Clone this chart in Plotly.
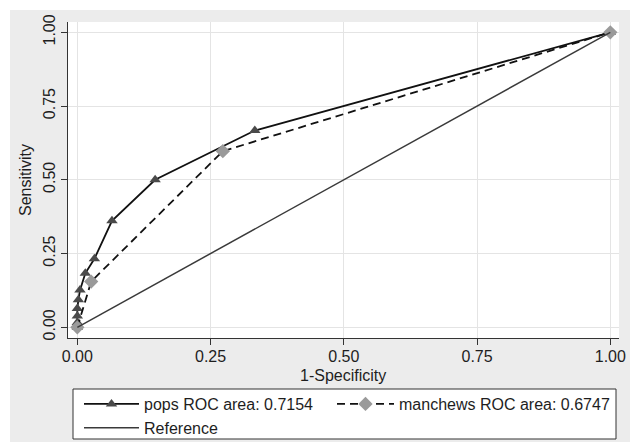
import plotly.graph_objects as go

# ROC data
pops_fpr = [0.0, 0.0, 0.0, 0.0, 0.002, 0.005, 0.015, 0.032, 0.065, 0.146, 0.333, 1.0]
pops_tpr = [0.0, 0.016, 0.038, 0.064, 0.093, 0.126, 0.183, 0.232, 0.361, 0.500, 0.667, 1.0]
manchews_fpr = [0.0, 0.026, 0.273, 1.0]
manchews_tpr = [0.0, 0.155, 0.597, 1.0]
ref_x = [0.0, 1.0]
ref_y = [0.0, 1.0]

pops_name = "pops ROC area: 0.7154"
manchews_name = "manchews ROC area: 0.6747"
ref_name = "Reference"
x_title = "1-Specificity"
y_title = "Sensitivity"

tick_vals = [0, 0.25, 0.5, 0.75, 1.0]
tick_text = ["0.00", "0.25", "0.50", "0.75", "1.00"]

W, H = 630, 442
ML, MR, MT, MB = 68, 11, 22, 104
PW = W - ML - MR
PH = H - MT - MB

FONT = "Arial, Liberation Sans, sans-serif"
TXT = "#1e1e1e"
FS = 16


def px2paper_x(p):
    return (p - ML) / PW


def px2paper_y(p):
    return (H - MB - p) / PH


fig = go.Figure()
fig.add_trace(go.Scatter(
    x=pops_fpr, y=pops_tpr, name=pops_name, mode="lines+markers",
    line=dict(color="#111111", width=1.8),
    marker=dict(symbol="triangle-up", size=10, color="#4a4a4a"),
    legend="legend",
))
fig.add_trace(go.Scatter(
    x=manchews_fpr, y=manchews_tpr, name=manchews_name, mode="lines+markers",
    line=dict(color="#111111", width=1.8, dash="8px,5px"),
    marker=dict(symbol="diamond", size=11, color="#9a9a9a"),
    legend="legend2",
))
fig.add_trace(go.Scatter(
    x=ref_x, y=ref_y, name=ref_name, mode="lines",
    line=dict(color="#3a3a3a", width=1.5),
    legend="legend",
))

shapes = [
    # thin white outer strips (top, left)
    dict(type="rect", xref="paper", yref="paper", layer="below",
         x0=px2paper_x(-5), x1=px2paper_x(10), y0=px2paper_y(H + 5), y1=px2paper_y(-5),
         fillcolor="white", line=dict(width=0)),
    dict(type="rect", xref="paper", yref="paper", layer="below",
         x0=px2paper_x(-5), x1=px2paper_x(W + 5), y0=px2paper_y(10), y1=px2paper_y(-5),
         fillcolor="white", line=dict(width=0)),
    # legend box
    dict(type="rect", xref="paper", yref="paper", layer="below",
         x0=px2paper_x(73), x1=px2paper_x(616), y0=px2paper_y(439), y1=px2paper_y(389),
         fillcolor="white", line=dict(color="#333333", width=1)),
]

axis_common = dict(
    tickvals=tick_vals, ticktext=tick_text,
    showgrid=True, gridcolor="#e4e4e4", gridwidth=1.2,
    zeroline=False,
    showline=True, linecolor="#333333", linewidth=1.2,
    ticks="outside", ticklen=6, tickcolor="#333333", tickwidth=1.2,
    tickfont=dict(family=FONT, size=FS, color=TXT),
)

leg_common = dict(
    orientation="v", xanchor="left", yanchor="top",
    bgcolor="rgba(0,0,0,0)", borderwidth=0,
    font=dict(family=FONT, size=FS, color=TXT),
    tracegroupgap=0,
)

fig.update_layout(
    width=W, height=H,
    margin=dict(l=ML, r=MR, t=MT, b=MB, pad=0, autoexpand=False),
    paper_bgcolor="#ececec", plot_bgcolor="white",
    font=dict(family=FONT, size=FS, color=TXT),
    shapes=shapes,
    xaxis=dict(range=[-0.0175, 1.0163], ticklabelstandoff=-2, **axis_common),
    yaxis=dict(range=[-0.0363, 1.0349], tickangle=-90, ticklabelstandoff=0,
               title=dict(text=y_title, font=dict(family=FONT, size=FS, color=TXT), standoff=4),
               **axis_common),
    annotations=[
        dict(text=x_title, xref="paper", yref="paper",
             x=px2paper_x(343), y=px2paper_y(375), xanchor="center", yanchor="middle",
             showarrow=False, font=dict(family=FONT, size=FS, color=TXT)),
    ],
    showlegend=True,
    legend=dict(x=px2paper_x(79), y=px2paper_y(387), itemwidth=55, **leg_common),
    legend2=dict(x=px2paper_x(332), y=px2paper_y(387), itemwidth=57, **leg_common),
)

fig.write_html(
    "out.html",
    config={"displayModeBar": False},
    post_script="document.body.style.margin='0';document.body.style.padding='0';"
                "document.body.style.overflow='hidden';",
)
